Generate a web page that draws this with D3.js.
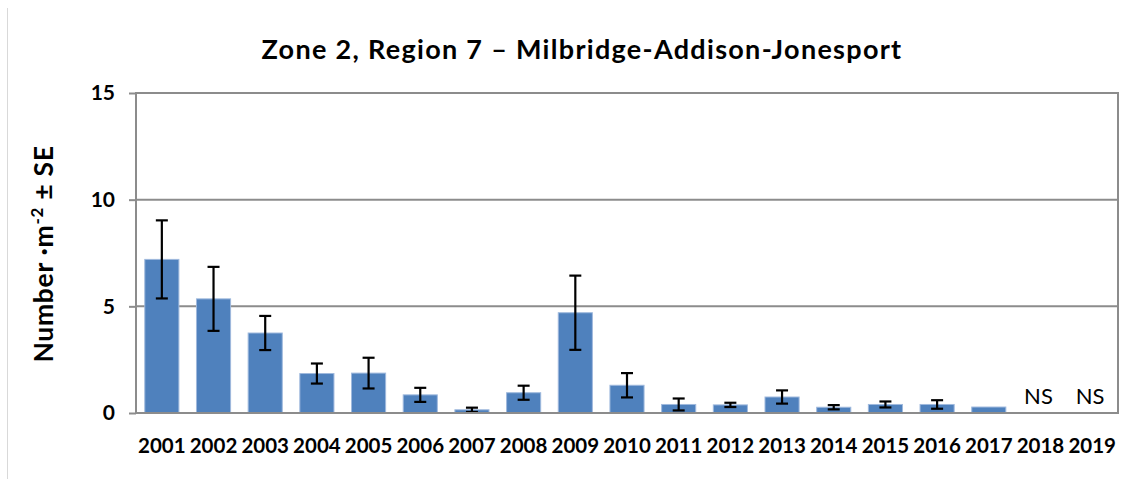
<!DOCTYPE html>
<html>
<head>
<meta charset="utf-8">
<script src="https://cdn.jsdelivr.net/npm/d3@7"></script>
<style>
  body { margin: 0; background: #fff; }
  text { font-family: Lato, "Open Sans", sans-serif; fill: #000; }
</style>
</head>
<body>
<svg id="chart"></svg>
<script>
const years = ['2001', '2002', '2003', '2004', '2005', '2006', '2007', '2008', '2009', '2010',
  '2011', '2012', '2013', '2014', '2015', '2016', '2017', '2018', '2019']
// null = not sampled (NS)
const means = [7.2, 5.35, 3.75, 1.85, 1.87, 0.85, 0.15, 0.95, 4.7, 1.3,
  0.4, 0.38, 0.75, 0.27, 0.4, 0.4, 0.28, null, null]
const errs = [1.83, 1.5, 0.8, 0.47, 0.72, 0.33, 0.1, 0.33, 1.74, 0.57,
  0.28, 0.1, 0.31, 0.1, 0.14, 0.2, 0, null, null]
const yTicks = [0, 5, 10, 15]

const size = { width: 1142, height: 479 }
const margin = { top: 93, right: 24, bottom: 66, left: 136 }

const svg = d3.select('#chart')
  .attr('width', size.width)
  .attr('height', size.height)

// SCALES
const x = d3.scaleBand()
  .domain(years)
  .range([margin.left, size.width - margin.right])
  .paddingInner(0.34)
  .paddingOuter(0.17)
const y = d3.scaleLinear()
  .domain([0, 15])
  .range([size.height - margin.bottom, margin.top])

// outer chart border (left edge only visible)
svg.append('line')
  .attr('x1', 7.5).attr('x2', 7.5)
  .attr('y1', 8).attr('y2', size.height)
  .attr('stroke', '#d9d9d9')
  .attr('stroke-width', 1)

// GRID
svg.append('g')
  .selectAll('line')
  .data(yTicks.filter(t => t > 0 && t < 15))
  .join('line')
  .attr('x1', margin.left)
  .attr('x2', size.width - margin.right)
  .attr('y1', d => y(d))
  .attr('y2', d => y(d))
  .attr('stroke', '#8c8c8c')
  .attr('stroke-width', 2)

// BARS
const bars = svg.append('g')
bars.selectAll('rect')
  .data(years.map((yr, i) => ({ yr, v: means[i] })).filter(d => d.v != null))
  .join('rect')
  .attr('x', d => x(d.yr))
  .attr('width', x.bandwidth())
  .attr('y', d => y(d.v))
  .attr('height', d => y(0) - y(d.v))
  .attr('fill', '#4f81bd')
  .attr('stroke', '#9fb9dd')
  .attr('stroke-width', 1)

// ERROR BARS
const eb = svg.append('g')
  .attr('stroke', '#000')
  .attr('stroke-width', 2.2)
const errData = years.map((yr, i) => ({ yr, v: means[i], e: errs[i] }))
  .filter(d => d.v != null && d.e > 0)
const cx = d => x(d.yr) + x.bandwidth() / 2
eb.selectAll('.stem')
  .data(errData)
  .join('line')
  .attr('class', 'stem')
  .attr('x1', cx).attr('x2', cx)
  .attr('y1', d => y(d.v + d.e))
  .attr('y2', d => y(Math.max(0, d.v - d.e)))
eb.selectAll('.capTop')
  .data(errData)
  .join('line')
  .attr('class', 'capTop')
  .attr('x1', d => cx(d) - 6).attr('x2', d => cx(d) + 6)
  .attr('y1', d => y(d.v + d.e)).attr('y2', d => y(d.v + d.e))
eb.selectAll('.capBot')
  .data(errData)
  .join('line')
  .attr('class', 'capBot')
  .attr('x1', d => cx(d) - 6).attr('x2', d => cx(d) + 6)
  .attr('y1', d => y(Math.max(0, d.v - d.e))).attr('y2', d => y(Math.max(0, d.v - d.e)))

// NS labels
svg.append('g')
  .selectAll('text')
  .data(years.filter((yr, i) => means[i] == null))
  .join('text')
  .attr('x', d => x(d) + x.bandwidth() / 2 - 2)
  .attr('y', y(0) - 9)
  .attr('text-anchor', 'middle')
  .style('font-size', '22px')
  .text('NS')

// PLOT FRAME
svg.append('rect')
  .attr('x', margin.left)
  .attr('y', margin.top)
  .attr('width', size.width - margin.right - margin.left)
  .attr('height', y(0) - margin.top)
  .attr('fill', 'none')
  .attr('stroke', '#8c8c8c')
  .attr('stroke-width', 2)

// Y AXIS
const yAxis = svg.append('g')
  .attr('transform', `translate(${margin.left},0)`)
  .call(d3.axisLeft(y).tickValues(yTicks).tickSize(7).tickPadding(14))
yAxis.select('.domain').remove()
yAxis.selectAll('line').attr('stroke', '#8c8c8c').attr('stroke-width', 2)
yAxis.selectAll('text')
  .style('font-size', '21px')
  .style('font-weight', 'bold')
  .attr('font-family', null)

// X AXIS LABELS
svg.append('g')
  .selectAll('text')
  .data(years)
  .join('text')
  .attr('x', d => x(d) + x.bandwidth() / 2)
  .attr('y', 453)
  .attr('text-anchor', 'middle')
  .style('font-size', '20.5px')
  .style('font-weight', 'bold')
  .text(d => d)

// TITLE
svg.append('text')
  .attr('x', 582)
  .attr('y', 59)
  .attr('text-anchor', 'middle')
  .style('font-size', '27px')
  .style('font-weight', 'bold')
  .style('letter-spacing', '1.3px')
  .text('Zone 2, Region 7 \u2013 Milbridge-Addison-Jonesport')

// Y LABEL
const yl = svg.append('text')
  .attr('transform', 'translate(53,254) rotate(-90)')
  .attr('text-anchor', 'middle')
  .style('font-size', '26.5px')
  .style('font-weight', 'bold')
  .style('letter-spacing', '0.7px')
yl.append('tspan').text('Number \u00b7m')
yl.append('tspan').attr('dy', -10).style('font-size', '17px').text('-2')
yl.append('tspan').attr('dy', 10).text(' \u00b1 SE')
</script>
</body>
</html>
